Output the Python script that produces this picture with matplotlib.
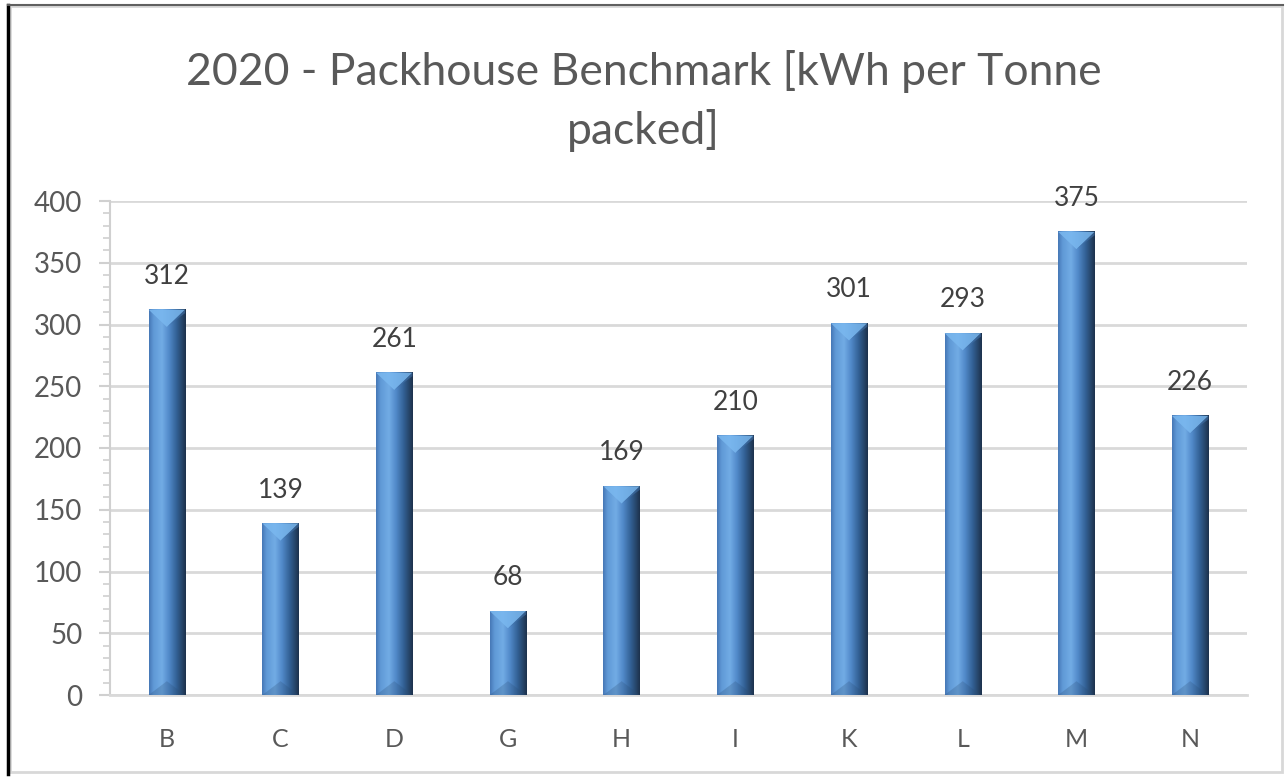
import numpy as np
import matplotlib
matplotlib.use("Agg")
import matplotlib.pyplot as plt
from matplotlib.colors import LinearSegmentedColormap
from matplotlib.patches import Polygon, Rectangle
from matplotlib.ticker import MultipleLocator

categories = ["B", "C", "D", "G", "H", "I", "K", "L", "M", "N"]
values = [312, 139, 261, 68, 169, 210, 301, 293, 375, 226]
title = "2020 - Packhouse Benchmark [kWh per Tonne\npacked]"
yticks = [0, 50, 100, 150, 200, 250, 300, 350, 400]

plt.rcParams['font.family'] = ['Lato', 'DejaVu Sans']
TXT = "#595959"

fig = plt.figure(figsize=(12.87, 7.77), dpi=100)
L, R = 110 / 1287, 1247 / 1287
B, T = 1 - 695 / 777, 1 - 201 / 777
ax = fig.add_axes([L, B, R - L, T - B])

x = np.arange(len(categories))
w = 0.32
ax.set_xlim(-0.5, len(categories) - 0.5)
ax.set_ylim(0, 400)

cmap = LinearSegmentedColormap.from_list("bar", [
    (0.0, "#4677b6"), (0.12, "#5f99d6"), (0.35, "#72ace5"),
    (0.55, "#5088c8"), (0.75, "#336195"), (1.0, "#1d324c")])
grad = np.linspace(0, 1, 200).reshape(1, -1)

fig.canvas.draw()
p0 = ax.transData.transform((0, 0))
p1 = ax.transData.transform((1, 1))
px_x = p1[0] - p0[0]
px_y = p1[1] - p0[1]
h = (w / 2) * px_x / px_y * 0.95

for xi, v in zip(x, values):
    ax.imshow(grad, extent=[xi - w/2, xi + w/2, 0, v], aspect='auto',
              cmap=cmap, zorder=3, interpolation='bilinear')
    top = Polygon([(xi - w/2, v), (xi + w/2, v), (xi, v - h)], closed=True,
                  facecolor="#7ab8ef", edgecolor='none', alpha=0.85, zorder=4)
    ax.add_patch(top)
    topr = Polygon([(xi, v - h), (xi + w/2, v), (xi + w/2, v - h*0.2)], closed=True,
                   facecolor="#3f6fa6", edgecolor='none', alpha=0.6, zorder=4)
    ax.add_patch(topr)
    bot = Polygon([(xi - w/2, 0), (xi + w/2, 0), (xi, h * 0.8)], closed=True,
                  facecolor="#2a4d76", edgecolor='none', alpha=0.25, zorder=4)
    ax.add_patch(bot)
    ax.annotate(str(v), (xi, v), xytext=(0, 15), textcoords='offset points',
                ha='center', va='bottom', fontsize=19, color="#404040", zorder=5)

ax.set_xticks(x)
ax.set_xticklabels(categories)
ax.set_yticks(yticks)
ax.yaxis.set_minor_locator(MultipleLocator(10))
ax.tick_params(axis='x', length=0, pad=24, labelsize=18, colors=TXT)
ax.tick_params(axis='y', which='major', length=8, width=1.5, color="#d0d0d0",
               labelsize=20, labelcolor=TXT, pad=12)
ax.tick_params(axis='y', which='minor', length=5, width=1.2, color="#d0d0d0")
ax.grid(axis='y', color="#d9d9d9", linewidth=2, zorder=0)
ax.set_axisbelow(True)
for s in ['top', 'right']:
    ax.spines[s].set_visible(False)
ax.spines['left'].set_color("#d0d0d0")
ax.spines['left'].set_linewidth(1.5)
ax.spines['bottom'].set_color("#d9d9d9")
ax.spines['bottom'].set_linewidth(2)

fig.text(0.5, 0.87, title, ha='center', va='center', fontsize=32,
         color=TXT, linespacing=1.45)

# frame
fig.add_artist(Rectangle((0.0075, 0.006), 0.989, 0.986, transform=fig.transFigure,
                         fill=False, edgecolor="#d8d8d8", linewidth=2))
fig.add_artist(plt.Line2D([0.0065, 0.0065], [0.004, 0.993], transform=fig.transFigure,
                          color="black", linewidth=2.5))
fig.add_artist(plt.Line2D([0.0065, 0.997], [0.993, 0.993], transform=fig.transFigure,
                          color="#606060", linewidth=1.5))

fig.savefig("out.png", dpi=100)
